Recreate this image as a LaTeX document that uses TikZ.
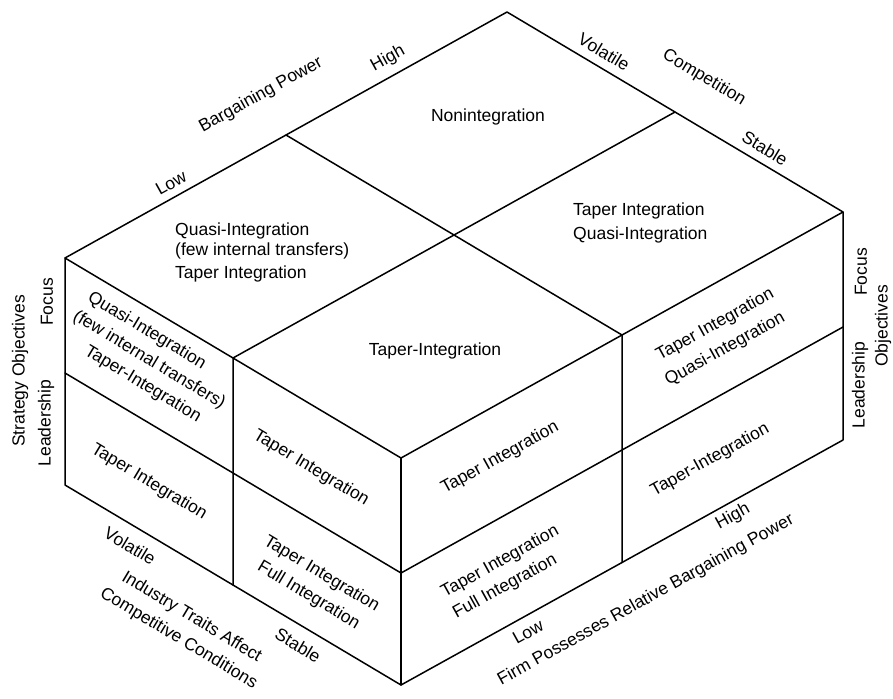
\documentclass[tikz,border=0pt]{standalone}
\usepackage{fontspec}
\setmainfont{Liberation Sans}
\usetikzlibrary{calc}
\begin{document}
\begin{tikzpicture}[x=1pt,y=-1pt,
  edge/.style={line width=1.5pt, line join=round, line cap=round},
  lbl/.style={font=\fontsize{17.5}{21}\selectfont, inner sep=0pt},
  blk/.style={lbl, font=\fontsize{17.5}{#1}\selectfont},
  lface/.style={lbl, rotate=-31},
  rface/.style={lbl, rotate=29},
  vert/.style={lbl, rotate=90}]
\useasboundingbox (0,0) rectangle (893,698);
% cube vertices
\coordinate (T) at (507,12);
\coordinate (L) at (65,258);
\coordinate (R) at (843,212);
\coordinate (F) at (401,458);
\coordinate (Lm) at (65,373);
\coordinate (Fm) at (401,573);
\coordinate (Rm) at (843,327);
\coordinate (Lb) at (65,485);
\coordinate (Fb) at (401,685);
\coordinate (Rb) at (843,440);
\coordinate (TL) at ($(T)!0.5!(L)$);
\coordinate (TR) at ($(T)!0.5!(R)$);
\coordinate (LF) at ($(L)!0.5!(F)$);
\coordinate (FR) at ($(F)!0.5!(R)$);
\coordinate (LFb) at ($(Lb)!0.5!(Fb)$);
\coordinate (FRb) at ($(Fb)!0.5!(Rb)$);
\coordinate (LFm) at ($(Lm)!0.5!(Fm)$);
\coordinate (FRm) at ($(Fm)!0.5!(Rm)$);
% outline
\draw[edge] (T) -- (L) -- (Lb) -- (Fb) -- (Rb) -- (R) -- cycle;
\draw[edge] (L) -- (F) -- (R);
\draw[edge] (F) -- (Fb);
% dividers
\draw[edge] (TL) -- (FR) -- (FRb);
\draw[edge] (TR) -- (LF) -- (LFb);
\draw[edge] (Lm) -- (Fm) -- (Rm);
% top face texts
\node[lbl] (nonint) at (488,117) {Nonintegration};
\node[blk=20, align=left, anchor=west] (tl) at (175,252)
  {Quasi-Integration\\(few internal transfers)\\[3pt]Taper Integration};
\node[blk=24, align=left, anchor=west] (tr) at (573,222.5)
  {Taper Integration\\Quasi-Integration};
\node[lbl] (tf) at (435,351) {Taper-Integration};
% left face texts
\node[blk=24, rotate=-31, align=left] (lu) at (149,360)
  {\hspace*{3pt}Quasi-Integration\\(few internal transfers)\\\hspace*{28pt}Taper-Integration};
\node[lface] (ll) at (149,482) {Taper Integration};
\node[lface] (ru) at (311,468) {Taper Integration};
\node[blk=25, rotate=-31, align=center] (rl) at (315,585)
  {Taper Integration\\Full Integration};
% right face texts
\node[rface] (fu) at (500,458) {Taper Integration};
\node[blk=24, rotate=29, align=left] (fl) at (506,572.5)
  {Taper Integration\\Full Integration};
\node[blk=26, rotate=29, align=left] (gu) at (719.5,337.5)
  {\hspace*{4.5pt}Taper Integration\\Quasi-Integration};
\node[rface] (gl) at (710,460) {Taper-Integration};
% top-left edge labels
\node[rface] (lowA) at (171,183) {Low};
\node[rface] (bpA) at (261,95) {Bargaining Power};
\node[rface] (highA) at (388,59) {High};
% top-right edge labels
\node[lface] (volA) at (604,52) {Volatile};
\node[lface] (comp) at (704,78) {Competition};
\node[lface] (stabA) at (765,148) {Stable};
% side labels
\node[vert] (focL) at (47,302) {Focus};
\node[vert] (leadL) at (46,423) {Leadership};
\node[vert] (stratL) at (20,371) {Strategy Objectives};
\node[vert] (focR) at (861,272) {Focus};
\node[vert] (leadR) at (860,385) {Leadership};
\node[vert] (objR) at (883,326) {Objectives};
% bottom-left edge labels
\node[lface] (volB) at (130,546) {Volatile};
\node[blk=25, rotate=-31, align=center] (ind) at (185,628)
  {Industry Traits Affect\\Competitive Conditions};
\node[lface] (stabB) at (298,645) {Stable};
% bottom-right edge labels
\node[rface] (lowB) at (528,632) {Low};
\node[rface] (firm) at (646,600) {Firm Possesses Relative Bargaining Power};
\node[rface] (highB) at (733,517) {High};
\end{tikzpicture}
\end{document}
